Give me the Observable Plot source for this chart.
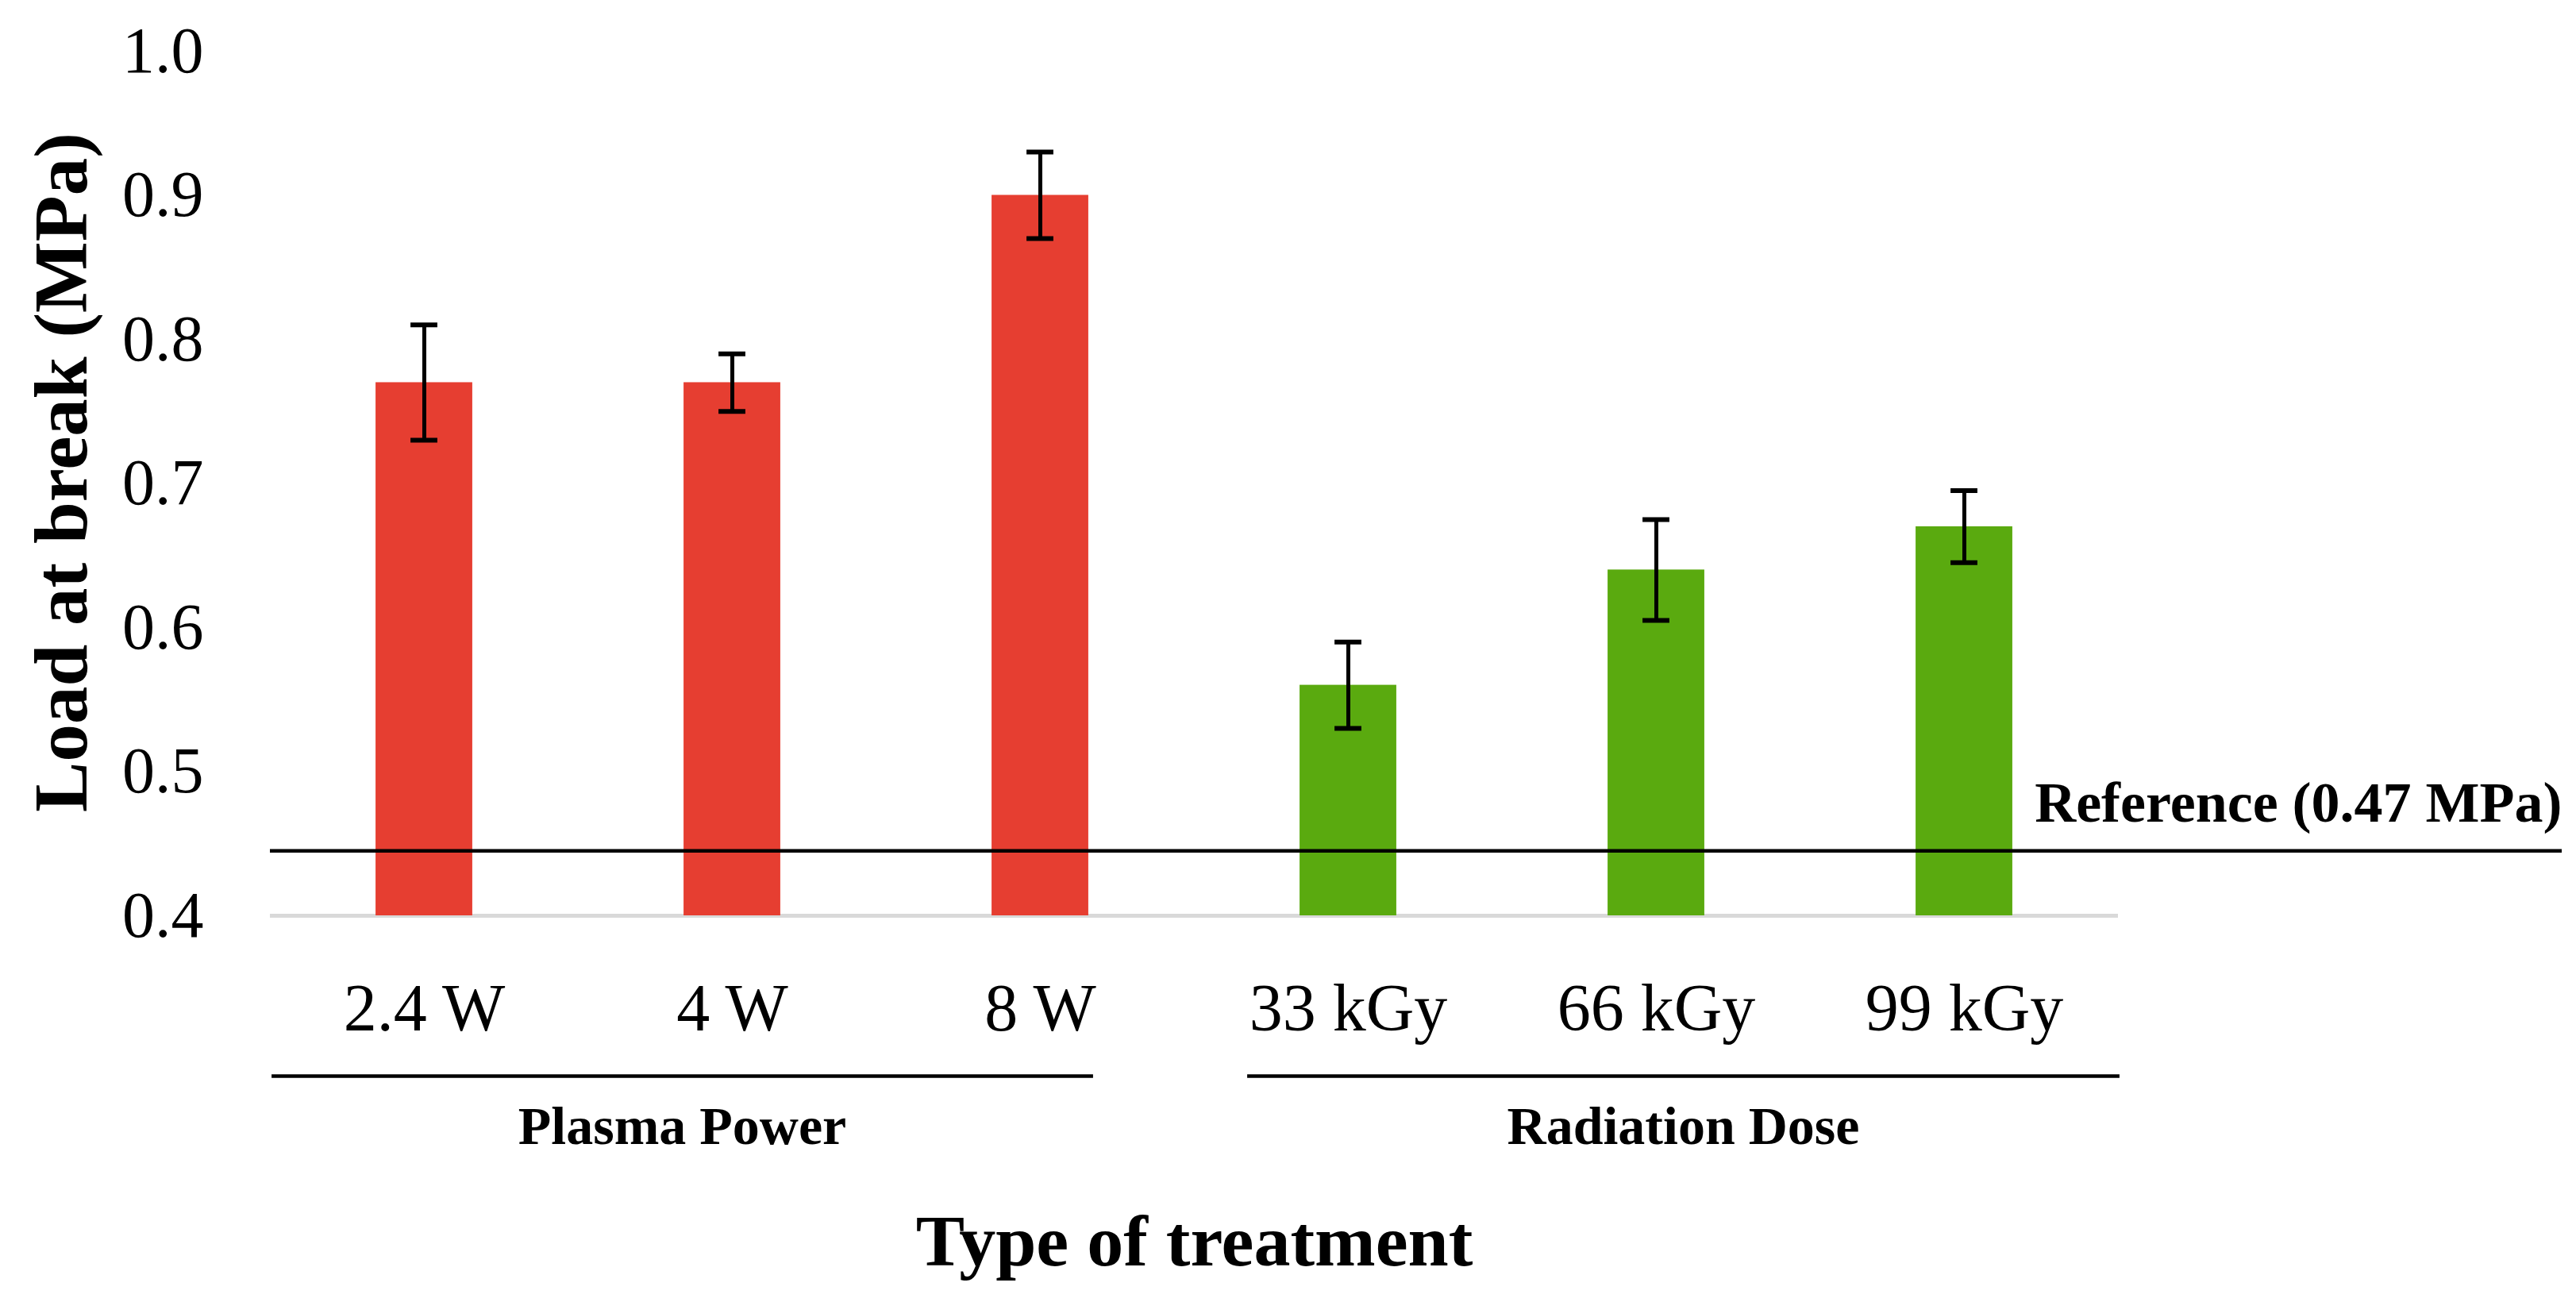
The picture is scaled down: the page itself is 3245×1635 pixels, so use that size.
<!DOCTYPE html>
<html><head><meta charset="utf-8">
<script src="https://cdn.jsdelivr.net/npm/d3@7"></script>
<script src="https://cdn.jsdelivr.net/npm/@observablehq/plot@0.6"></script>
<style>html,body{margin:0;padding:0;background:#fff;} svg{display:block;}</style>
</head><body><div id="chart"></div>
<script>
// ---- data ----
const categories = ["2.4 W", "4 W", "8 W", "33 kGy", "66 kGy", "99 kGy"];
const treatmentType = ["Plasma Power", "Plasma Power", "Plasma Power", "Radiation Dose", "Radiation Dose", "Radiation Dose"];
const loadAtBreak = [0.77, 0.77, 0.90, 0.56, 0.64, 0.67];
const stdDev = [0.04, 0.02, 0.03, 0.03, 0.035, 0.025];
const yTicks = [0.4, 0.5, 0.6, 0.7, 0.8, 0.9, 1.0];
const yDomain = [0.4, 1.0];
const referenceValue = [0.445];
const referenceLabel = "Reference (0.47 MPa)";
const groups = ["Plasma Power", "Radiation Dose"];
const groupFirst = ["2.4 W", "33 kGy"];
const groupLast = ["8 W", "99 kGy"];
const groupMiddle = ["4 W", "66 kGy"];
const groupColors = ["#e63e31", "#5aaa0f"];
const yTitle = "Load at break (MPa)";
const xTitle = "Type of treatment";

const rows = categories.map((c, i) => ({cat: c, group: treatmentType[i], value: loadAtBreak[i], lo: loadAtBreak[i] - stdDev[i], hi: loadAtBreak[i] + stdDev[i], base: yDomain[0]}));
const groupRows = groups.map((g, i) => ({group: g, first: groupFirst[i], last: groupLast[i], middle: groupMiddle[i], y: yDomain[0]}));

const FONT = "'Liberation Serif', 'Times New Roman', serif";

const chart = Plot.plot({
  width: 3245,
  height: 1635,
  marginLeft: 340,
  marginRight: 577,
  marginTop: 64,
  marginBottom: 482,
  style: {fontFamily: FONT, color: "#000", background: "#fff", overflow: "visible"},
  x: {domain: categories, paddingInner: 0.686, paddingOuter: 0.343, round: false},
  y: {domain: yDomain},
  color: {domain: groups, range: groupColors},
  marks: [
    Plot.axisY({ticks: yTicks, tickSize: 0, tickPadding: 84, fontSize: 82, label: null, tickFormat: d3.format(".1f")}),
    Plot.axisX({tickSize: 0, tickPadding: 85, fontSize: 84, label: null}),
    // gray category axis line
    Plot.ruleY([yDomain[0]], {stroke: "#d9d9d9", strokeWidth: 5}),
    // bars
    Plot.barY(rows, {x: "cat", y1: "base", y2: "value", fill: "group"}),
    // error bars
    Plot.ruleX(rows, {x: "cat", y1: "lo", y2: "hi", stroke: "#000", strokeWidth: 5}),
    Plot.tickY(rows, {x: "cat", y: "lo", stroke: "#000", strokeWidth: 6, insetLeft: 44, insetRight: 44}),
    Plot.tickY(rows, {x: "cat", y: "hi", stroke: "#000", strokeWidth: 6, insetLeft: 44, insetRight: 44}),
    // reference line
    Plot.ruleY(referenceValue, {stroke: "#000", strokeWidth: 4.5, insetRight: -559}),
    Plot.text(referenceValue, {y: d => d, frameAnchor: "right", text: () => referenceLabel, textAnchor: "end", lineAnchor: "bottom", dx: 559, dy: -37, fontSize: 72, fontWeight: "bold", fill: "#000"}),
    // group brackets
    Plot.ruleY(groupRows.slice(0, 1), {y: "y", x1: "first", x2: "last", stroke: "#000", strokeWidth: 4.5, dy: 202, insetLeft: -131, insetRight: -6}),
    Plot.ruleY(groupRows.slice(1, 2), {y: "y", x1: "first", x2: "last", stroke: "#000", strokeWidth: 4.5, dy: 202, insetLeft: -66, insetRight: -135}),
    Plot.text(groupRows.slice(0, 1), {x: "middle", y: "y", text: "group", dx: -63, dy: 287, lineAnchor: "bottom", fontSize: 68, fontWeight: "bold", fill: "#000"}),
    Plot.text(groupRows.slice(1, 2), {x: "middle", y: "y", text: "group", dx: 34, dy: 287, lineAnchor: "bottom", fontSize: 68, fontWeight: "bold", fill: "#000"}),
    // axis titles
    Plot.text([xTitle], {frameAnchor: "bottom", text: d => d, textAnchor: "middle", lineAnchor: "bottom", dy: 440, fontSize: 92, fontWeight: "bold", fill: "#000"}),
    Plot.text([yTitle], {frameAnchor: "left", text: d => d, rotate: -90, textAnchor: "middle", lineAnchor: "middle", dx: -262, dy: -14, fontSize: 95, fontWeight: "bold", fill: "#000"})
  ]
});
document.getElementById("chart").appendChild(chart);
</script>
</body></html>
